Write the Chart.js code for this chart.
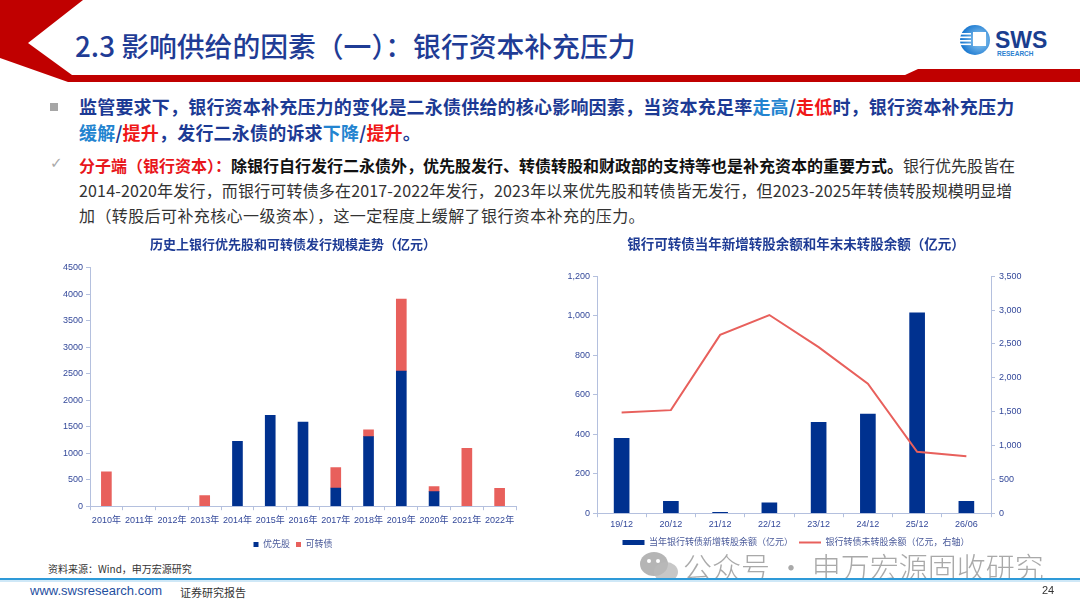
<!DOCTYPE html>
<html>
<head>
<meta charset="utf-8">
<script src="https://cdn.jsdelivr.net/npm/chart.js@4.4.1/dist/chart.umd.min.js"></script>
<style>
  body { margin: 0; background: #fff; }
  #page { position: relative; width: 1080px; height: 608px; overflow: hidden; background: #fff; font-family: "Noto Sans CJK SC", sans-serif; }
  .abs { position: absolute; white-space: nowrap; }
  .title { left: 75px; top: 25px; font-size: 27.8px; color: #1f3c95; font-weight: 500; }
  .b1 { left: 79px; font-size: 18px; font-weight: bold; color: #1c3a94; letter-spacing: 0.2px; }
  .b2 { left: 79px; font-size: 16px; color: #333; }
  .lb { color: #2384d0; }
  .rd { color: #f01818; }
  .bk { color: #111; font-weight: bold; }
  .red { color: #e8161b; font-weight: bold; }
  .mark { left: 50px; top: 103px; width: 8px; height: 8px; background: #a6a6a6; }
  .check { left: 50px; top: 154px; font-size: 15px; color: #aaa; font-family: "DejaVu Sans"; }
  .src { left: 48px; top: 561px; font-size: 10px; color: #333; }
  .url { left: 30px; top: 583px; font-size: 13px; color: #1f4f9f; font-family: "Liberation Sans Narrow", "Liberation Sans", sans-serif; }
  .rep { left: 180px; top: 584px; font-size: 11px; color: #333; }
  .pg { left: 1042px; top: 584px; font-size: 11px; color: #333; font-family: "Liberation Sans", sans-serif; }
  .wm { left: 683px; top: 545px; font-size: 29px; color: rgba(140,140,140,0.75); font-weight: 300; }
  #c1 { position: absolute; left: 40px; top: 232px; }
  #c2 { position: absolute; left: 550px; top: 232px; }
</style>
</head>
<body>
<div id="page">
  <svg class="abs" style="left:0;top:0" width="1080" height="90">
    <polygon points="0,0 83,0 28,43 72,75 905,75 918,69 1080,69 1080,82 68,82 0,58" fill="#c00000"/>
    <defs>
      <radialGradient id="lg" cx="0.65" cy="0.5" r="0.6">
        <stop offset="0" stop-color="#9fd3f5"/>
        <stop offset="1" stop-color="#1a78d0"/>
      </radialGradient>
    </defs>
    <circle cx="975" cy="40" r="15" fill="url(#lg)"/>
    <rect x="973" y="32" width="13" height="14" fill="#fff"/>
    <rect x="961" y="33" width="10" height="1.6" fill="#fff"/>
    <rect x="960" y="36.5" width="11" height="1.6" fill="#fff"/>
    <rect x="960" y="40" width="11" height="1.6" fill="#fff"/>
    <rect x="960" y="43.5" width="11" height="1.6" fill="#fff"/>
    <text x="995" y="48" font-family="Liberation Sans" font-weight="bold" font-size="23" fill="#1a3e8f">SWS</text>
    <text x="997" y="56" font-family="Liberation Sans" font-weight="bold" font-size="6.5" fill="#2b7fd0">RESEARCH</text>
  </svg>
  <div class="abs title">2.3 影响供给的因素（一）：银行资本补充压力</div>

  <div class="abs mark"></div>
  <div class="abs b1" style="top:93px">监管要求下，银行资本补充压力的变化是二永债供给的核心影响因素，当资本充足率<span class="lb">走高</span>/<span class="rd">走低</span>时，银行资本补充压力</div>
  <div class="abs b1" style="top:119px"><span class="lb">缓解</span>/<span class="rd">提升</span>，发行二永债的诉求<span class="lb">下降</span>/<span class="rd">提升</span>。</div>

  <div class="abs check">✓</div>
  <div class="abs b2" style="top:153px"><span class="red">分子端（银行资本）：</span><span class="bk">除银行自行发行二永债外，优先股发行、转债转股和财政部的支持等也是补充资本的重要方式。</span>银行优先股皆在</div>
  <div class="abs b2" style="top:178px;letter-spacing:0.17px">2014-2020年发行，而银行可转债多在2017-2022年发行，2023年以来优先股和转债皆无发行，但2023-2025年转债转股规模明显增</div>
  <div class="abs b2" style="top:203px;letter-spacing:0.4px">加（转股后可补充核心一级资本），这一定程度上缓解了银行资本补充的压力。</div>

  <canvas id="c1" width="506" height="327"></canvas>
  <canvas id="c2" width="492" height="325"></canvas>

  <svg class="abs" style="left:638px;top:550px" width="44" height="34">
    <ellipse cx="16" cy="14" rx="14" ry="12" fill="rgba(150,150,150,0.7)"/>
    <ellipse cx="28" cy="22" rx="12" ry="10" fill="rgba(185,185,185,0.8)"/>
    <circle cx="11" cy="11" r="2" fill="#fff"/><circle cx="20" cy="11" r="2" fill="#fff"/>
  </svg>
  <div class="abs wm">公众号 · 申万宏源固收研究</div>

  <div class="abs src">资料来源：Wind，申万宏源研究</div>
  <div class="abs" style="left:0;top:578px;width:1080px;height:2px;background:#2e9ad8"></div>
  <div class="abs" style="left:0;top:580px;width:1080px;height:2px;background:#cfe8f7"></div>
  <div class="abs url">www.swsresearch.com</div>
  <div class="abs rep">证券研究报告</div>
  <div class="abs pg">24</div>
</div>

<script>
// 左图：历史上银行优先股和可转债发行规模（亿元），空年份为 null
const years = ['2010年', '2011年', '2012年', '2013年', '2014年', '2015年', '2016年', '2017年', '2018年', '2019年', '2020年', '2021年', '2022年'];
const prefShares = [null, null, null, null, 1225, 1715, 1585, 343, 1311, 2547, 275, null, null];
const convBonds = [650, null, null, 200, null, null, null, 387, 131, 1361, 93, 1092, 337];

// 右图：当年新增转股余额（左轴）和年末未转股余额（右轴）
const periods = ['19/12', '20/12', '21/12', '22/12', '23/12', '24/12', '25/12', '26/06'];
const newConversion = [379, 60, 5, 52, 460, 502, 1014, 60];
const unconverted = [1488, 1522, 2633, 2927, 2452, 1914, 906, 842];

const navy = '#00318f';
const red = '#e8605c';
const axisColor = '#b4c0de';
const tickColor = '#34499a';
const tickFont = { family: 'Liberation Sans, Noto Sans CJK SC', size: 9 };

Chart.defaults.font.family = 'Liberation Sans, Noto Sans CJK SC';

function axisGrid() {
    return { display: true, drawOnChartArea: false, drawTicks: true, tickLength: 4, color: axisColor };
}

new Chart(document.getElementById('c1'), {
    type: 'bar',
    data: {
        labels: years,
        datasets: [
            { label: '优先股', data: prefShares, backgroundColor: navy, barThickness: 10 },
            { label: '可转债', data: convBonds, backgroundColor: red, barThickness: 10 }
        ]
    },
    options: {
        responsive: false,
        animation: false,
        layout: { padding: 0 },
        plugins: {
            title: {
                display: true,
                text: '历史上银行优先股和可转债发行规模走势（亿元）',
                color: '#1f3c95',
                font: { family: 'Noto Sans CJK SC', size: 13, weight: 'bold' },
                padding: { top: 4, bottom: 16 }
            },
            legend: {
                position: 'bottom',
                labels: { boxWidth: 5, boxHeight: 5, color: '#4a5a9a', font: { size: 9 }, padding: 6 }
            },
            tooltip: { enabled: false }
        },
        scales: {
            x: {
                stacked: true,
                grid: axisGrid(),
                border: { color: axisColor },
                ticks: { color: tickColor, font: tickFont, padding: 5, maxRotation: 0, autoSkip: false },
                afterFit: s => { s.height += 3; }
            },
            y: {
                stacked: true,
                min: 0,
                max: 4500,
                grid: axisGrid(),
                border: { color: axisColor },
                ticks: { stepSize: 500, color: tickColor, font: tickFont, padding: 3, callback: v => String(v) },
                afterFit: s => { s.width = 50; }
            },
            // 空白右轴：只占位，让标题和图例落在原图的位置
            pad: {
                position: 'right',
                display: true,
                grid: { display: false },
                border: { display: false },
                ticks: { display: false },
                afterFit: s => { s.width = 30; }
            }
        }
    }
});

new Chart(document.getElementById('c2'), {
    type: 'bar',
    data: {
        labels: periods,
        datasets: [
            { type: 'bar', label: '当年银行转债新增转股余额（亿元）', data: newConversion, backgroundColor: navy, barThickness: 15, yAxisID: 'y', order: 1, pointStyle: 'rect' },
            { type: 'line', label: '银行转债未转股余额（亿元，右轴）', data: unconverted, borderColor: red, backgroundColor: red, borderWidth: 2, pointRadius: 0, tension: 0, yAxisID: 'y1', order: 0, pointStyle: 'line' }
        ]
    },
    options: {
        responsive: false,
        animation: false,
        locale: 'en-US',
        layout: { padding: 0 },
        plugins: {
            title: {
                display: true,
                text: '银行可转债当年新增转股余额和年末未转股余额（亿元）',
                color: '#1f3c95',
                font: { family: 'Noto Sans CJK SC', size: 13.5, weight: 'bold' },
                padding: { top: 4, bottom: 24 }
            },
            legend: {
                position: 'bottom',
                labels: {
                    usePointStyle: true, pointStyleWidth: 22, boxHeight: 5,
                    color: '#4a5a9a', font: { size: 9 }, padding: 6,
                    sort: (a, b) => a.datasetIndex - b.datasetIndex
                }
            },
            tooltip: { enabled: false }
        },
        scales: {
            x: {
                grid: axisGrid(),
                border: { color: axisColor },
                ticks: { color: tickColor, font: tickFont, padding: 2, maxRotation: 0, autoSkip: false }
            },
            y: {
                position: 'left',
                min: 0,
                max: 1200,
                grid: axisGrid(),
                border: { color: axisColor },
                ticks: { stepSize: 200, color: tickColor, font: tickFont, padding: 3 },
                afterFit: s => { s.width = 47; }
            },
            y1: {
                position: 'right',
                min: 0,
                max: 3500,
                grid: axisGrid(),
                border: { color: axisColor },
                ticks: { stepSize: 500, color: tickColor, font: tickFont, padding: 4 },
                afterFit: s => { s.width = 51; }
            }
        }
    }
});
</script>
</body>
</html>
